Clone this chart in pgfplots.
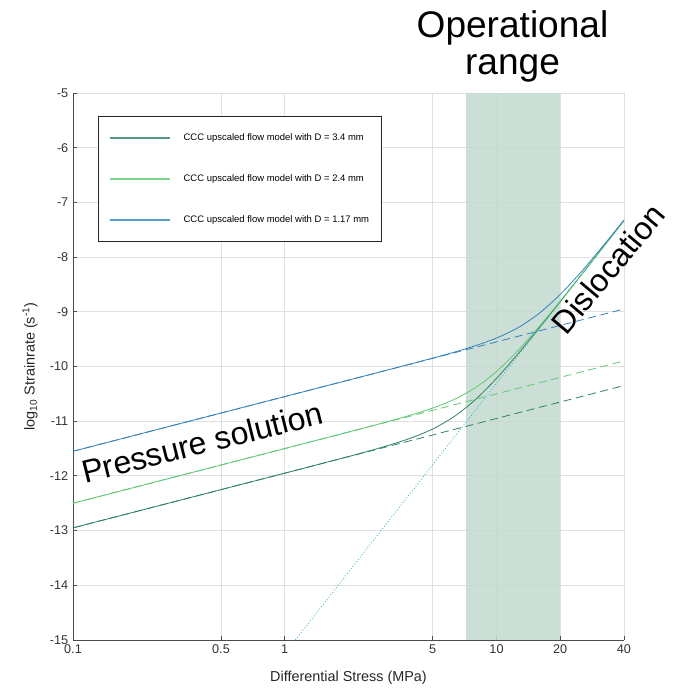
\documentclass[border=0pt]{standalone}
\usepackage{fontspec}
\setmainfont{Liberation Sans}
\usepackage{pgfplots}
\pgfplotsset{compat=1.18}
\definecolor{dgreen}{RGB}{45,130,95}
\definecolor{lgreen}{RGB}{95,200,115}
\definecolor{lblue}{RGB}{50,130,190}
\definecolor{dcyan}{RGB}{70,180,205}
\definecolor{shade}{RGB}{195,217,208}
\begin{document}
\begin{tikzpicture}
\useasboundingbox (-54.75pt,-36.75pt) rectangle (449.25pt,480pt);
\begin{axis}[
 at={(0,0)}, anchor=south west,
 scale only axis, width=413.25pt, height=410.25pt,
 xmode=log, xmin=0.1, xmax=40, ymin=-15, ymax=-5,
 xtick={0.1,0.5,1,5,10,20,40}, xticklabels={0.1,0.5,1,5,10,20,40},
 minor xtick={},
 ytick={-15,-14,...,-5}, yticklabels={-15,-14,-13,-12,-11,-10,-9,-8,-7,-6,-5},
 grid=major, major grid style={draw=black!12, line width=0.6pt},
 axis x line*=bottom, axis y line*=left,
 axis line style={-, draw=black!70, line width=0.7pt},
 tick align=inside, major tick length=3pt, tick style={draw=black!70, line width=0.7pt},
 ticklabel style={font=\fontsize{9.5}{11}\selectfont, text=black!80},
 xlabel={Differential Stress (MPa)},
 ylabel={log\textsubscript{10} Strainrate (s\textsuperscript{-1})},
 label style={font=\fontsize{10.8}{12}\selectfont, text=black!85},
 xlabel style={at={(axis description cs:0.5,-0.0695)}, anchor=center},
 ylabel style={at={(axis description cs:-0.078,0.5)}, anchor=center},
 clip=false,
 legend style={at={(0.045,0.958)}, anchor=north west, draw=black!85, line width=0.6pt,
   font=\fontsize{7.1}{8.5}\selectfont, inner xsep=8pt, inner ysep=12pt,
   row sep=22pt, column sep=9pt, nodes={inner sep=1pt}},
 legend cell align=left,
 legend image code/.code={\draw[#1, line width=1.1pt, opacity=0.8] (0pt,0pt) -- (45pt,0pt);},
]
% operational range shading
\addplot[forget plot, draw=none, fill=shade, fill opacity=0.85] coordinates {(7.15,-15) (7.15,-5) (20,-5) (20,-15)};
% pressure solution (dashed)
\addplot[forget plot, draw=dgreen, line width=0.6pt, dash pattern=on 6pt off 3.5pt] coordinates {(0.1,-12.95) (40,-10.348)};
\addplot[forget plot, draw=lgreen, line width=0.6pt, dash pattern=on 6pt off 3.5pt] coordinates {(0.1,-12.5) (40,-9.898)};
\addplot[forget plot, draw=lblue, line width=0.6pt, dash pattern=on 6pt off 3.5pt] coordinates {(0.1,-11.55) (40,-8.948)};
% dislocation (dotted)
\addplot[forget plot, draw=dcyan, line width=0.6pt, dash pattern=on 0.75pt off 1.5pt] coordinates {(1.122,-15) (40,-7.333)};
% combined models
\addplot[draw=dgreen, line width=0.6pt, smooth] coordinates {
(0.1,-12.95) (1,-11.95) (1.995,-11.647) (2.512,-11.542) (3.162,-11.430) (3.981,-11.302)
(5.012,-11.140) (6.310,-10.915) (7.943,-10.607) (10,-10.218) (12.589,-9.775) (15.849,-9.303)
(19.953,-8.819) (25.119,-8.328) (31.623,-7.836) (40,-7.332)};
\addlegendentry{CCC upscaled flow model with D = 3.4 mm}
\addplot[draw=lgreen, line width=0.6pt, smooth] coordinates {
(0.1,-12.5) (1,-11.5) (1.995,-11.199) (2.512,-11.097) (3.162,-10.993) (3.981,-10.882)
(5.012,-10.758) (6.310,-10.602) (7.943,-10.388) (10,-10.092) (12.589,-9.713) (15.849,-9.276)
(19.953,-8.807) (25.119,-8.324) (31.623,-7.834) (40,-7.332)};
\addlegendentry{CCC upscaled flow model with D = 2.4 mm}
\addplot[draw=lblue, line width=0.6pt, smooth] coordinates {
(0.1,-11.55) (1,-10.55) (1.995,-10.25) (3.162,-10.049) (3.981,-9.948) (5.012,-9.845)
(6.310,-9.738) (7.943,-9.620) (10,-9.480) (12.589,-9.294) (15.849,-9.033) (19.953,-8.686)
(25.119,-8.270) (31.623,-7.811) (40,-7.323)};
\addlegendentry{CCC upscaled flow model with D = 1.17 mm}
% annotations
\node[font=\fontsize{27.8}{30}\selectfont, anchor=base] at (axis cs:11.9,-3.982) {Operational};
\node[font=\fontsize{27.8}{30}\selectfont, anchor=base] at (axis cs:11.9,-4.653) {range};
\node[font=\fontsize{24}{26}\selectfont, anchor=base, rotate=14] at (axis cs:0.42,-11.59) {Pressure solution};
\node[font=\fontsize{24}{26}\selectfont, anchor=base, rotate=50] at (axis cs:37,-8.35) {Dislocation};
\end{axis}
\end{tikzpicture}
\end{document}
